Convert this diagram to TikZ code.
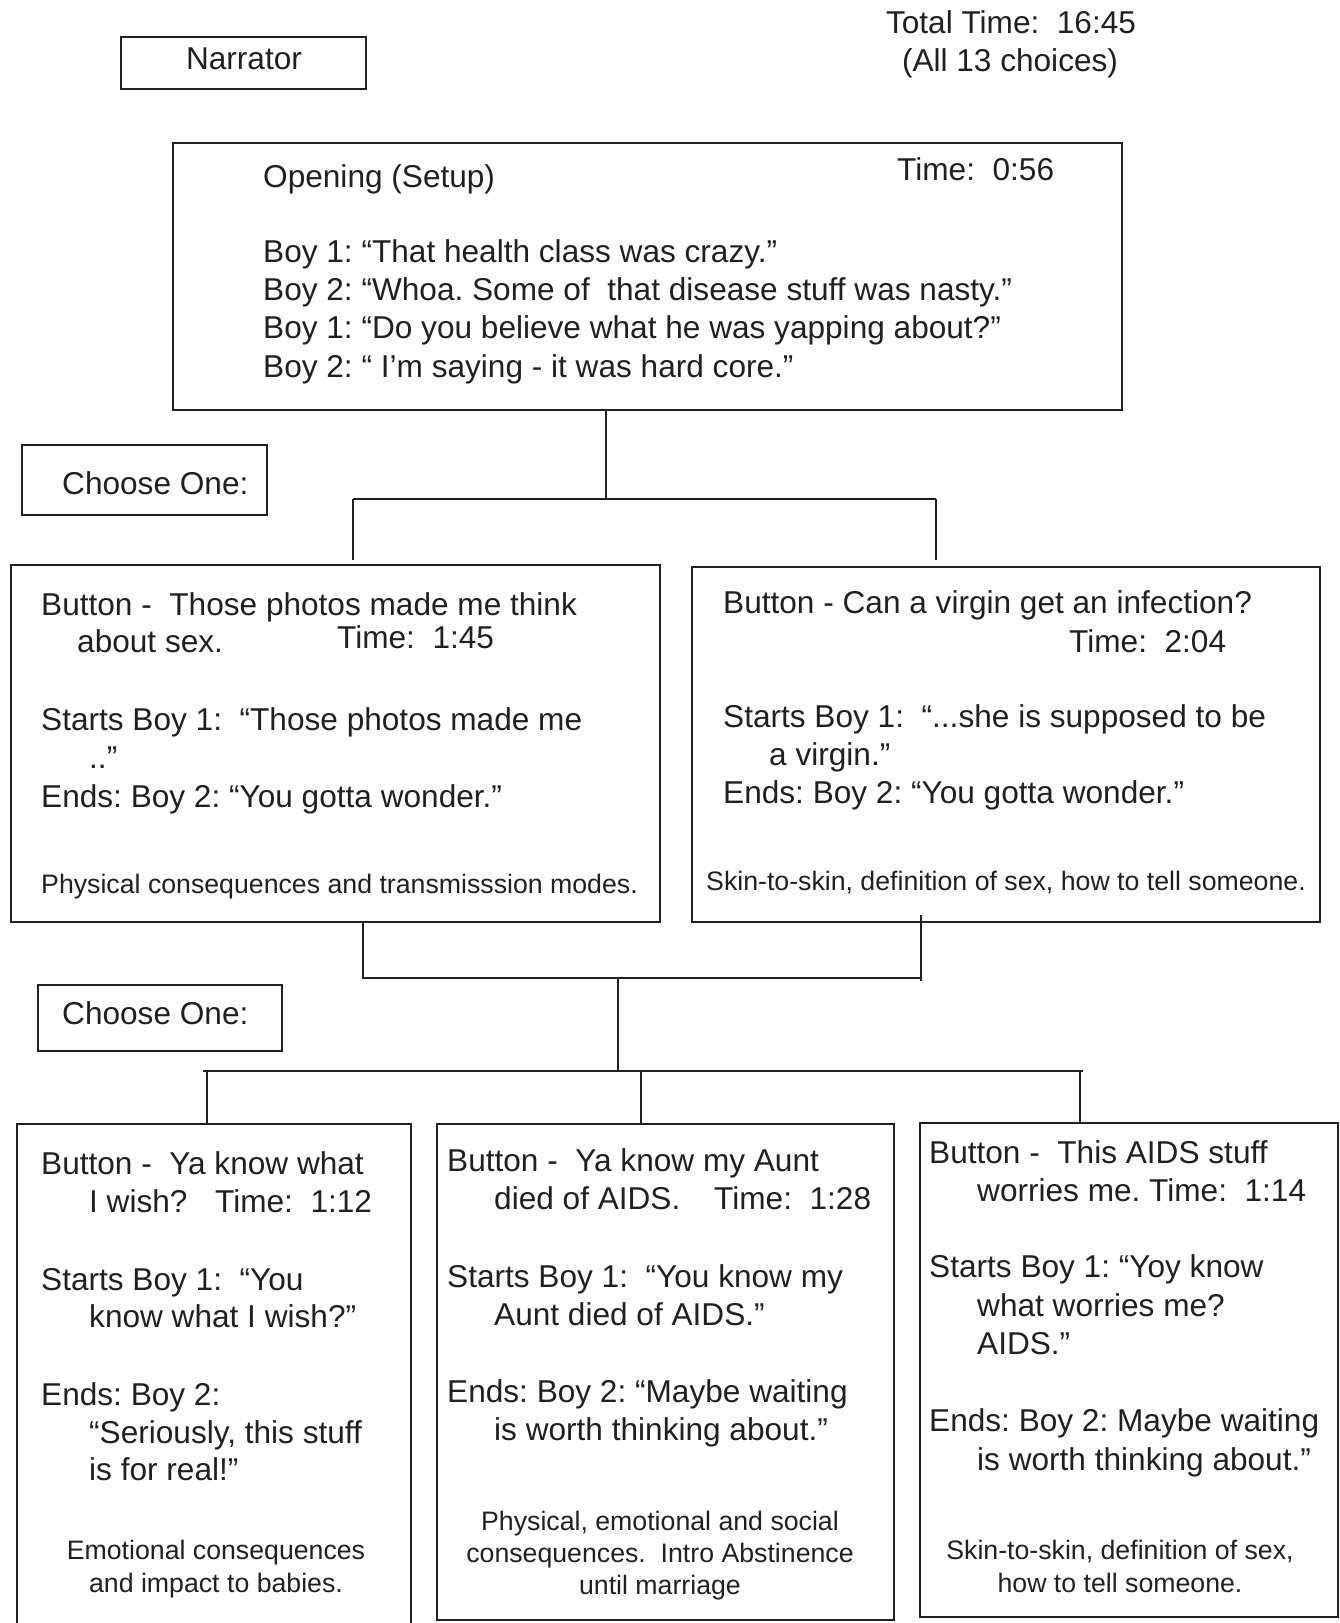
\documentclass[tikz,border=0pt]{standalone}
\usepackage{fontspec}
\setmainfont{Liberation Sans}
\usetikzlibrary{calc}
\definecolor{ink}{RGB}{35,31,32}
\newcommand\mainf{\fontsize{31.6}{38}\selectfont}
\newcommand\notef{\fontsize{26.7}{33}\selectfont}
\frenchspacing
\begin{document}
\begin{tikzpicture}[x=1pt,y=-1pt,
  box/.style={draw=ink, line width=2.5pt, anchor=north west, inner sep=0pt, outer sep=0pt},
  openbox/.style={anchor=north west, inner sep=0pt, outer sep=0pt},
  conn/.style={draw=ink, line width=2.5pt},
  txt/.style={anchor=base west, inner sep=0pt, text=ink, font=\mainf},
  ctxt/.style={anchor=base, inner sep=0pt, text=ink, font=\mainf},
  note/.style={anchor=base west, inner sep=0pt, text=ink, font=\notef},
  cnote/.style={anchor=base, inner sep=0pt, text=ink, font=\notef}]
\useasboundingbox (0,0) rectangle (1340,1623);

% ---------- boxes ----------
\node[box, minimum width=245pt, minimum height=52pt] (narr) at (121,37) {};
\node[box, minimum width=949pt, minimum height=267pt] (open) at (173,143) {};
\node[box, minimum width=245pt, minimum height=70pt] (ch1) at (22,445) {};
\node[box, minimum width=649pt, minimum height=357pt] (b1) at (11,565) {};
\node[box, minimum width=628pt, minimum height=355pt] (b2) at (692,567) {};
\node[box, minimum width=244pt, minimum height=66pt] (ch2) at (38,985) {};
\node[openbox, minimum width=394pt, minimum height=499pt] (c1) at (17,1124) {};
\draw[conn] (c1.south west) -- (c1.north west) -- (c1.north east) -- (c1.south east);
\node[box, minimum width=457pt, minimum height=496pt] (c2) at (437,1124) {};
\node[box, minimum width=418pt, minimum height=494pt] (c3) at (920,1123) {};

% ---------- connectors ----------
\coordinate (j1) at (606,499);
\coordinate (l1) at (353,499);
\coordinate (r1) at (936,499);
\draw[conn] (open.south -| j1) -- (j1);
\draw[conn] (l1) -- (r1);
\draw[conn, shorten >=5pt] (l1) -- (b1.north -| l1);
\draw[conn, shorten >=7pt] (r1) -- (b2.north -| r1);

\coordinate (l2) at (363,978);
\coordinate (r2) at (921,978);
\coordinate (j2) at (618,978);
\coordinate (j3) at (618,1071);
\draw[conn] (b1.south -| l2) -- (l2) -- (r2);
\draw[conn] ([yshift=7pt]b2.south -| r2) -- ([yshift=-3pt]r2);
\draw[conn] (j2) -- (j3);
\coordinate (l3) at (203,1071);
\coordinate (r3) at (1083,1071);
\draw[conn] (l3) -- (r3);
\coordinate (v1) at (207,1071);
\coordinate (v2) at (641,1071);
\coordinate (v3) at (1080,1071);
\draw[conn] (v1) -- (c1.north -| v1);
\draw[conn] (v2) -- (c2.north -| v2);
\draw[conn] (v3) -- (c3.north -| v3);

% ---------- header ----------
\node[ctxt] (narrt) at (244,69) {Narrator};
\node[ctxt] (tot1) at (1011,33) {Total Time:\ \ 16:45};
\node[ctxt] (tot2) at (1010,71) {(All 13 choices)};

% ---------- opening ----------
\node[txt] (o0) at (263,187) {Opening (Setup)};
\node[txt] (ot) at (897,180) {Time:\ \ 0:56};
\node[txt] (o1) at (263,262) {Boy 1: “That health class was crazy.”};
\node[txt] (o2) at (263,300) {Boy 2: “Whoa. Some of\ \ that disease stuff was nasty.”};
\node[txt] (o3) at (263,338) {Boy 1: “Do you believe what he was yapping about?”};
\node[txt] (o4) at (263,377) {Boy 2: “ I’m saying - it was hard core.”};

\node[txt] (ch1t) at (62,494) {Choose One:};
\node[txt] (ch2t) at (62,1024) {Choose One:};

% ---------- first choice ----------
\node[txt] (a1) at (41,615) {Button -\ \ Those photos made me think};
\node[txt] (a2) at (77,652) {about sex.};
\node[txt] (at) at (337,648) {Time:\ \ 1:45};
\node[txt] (a3) at (41,730) {Starts Boy 1:\ \ “Those photos made me};
\node[txt] (a4) at (89,768) {..”};
\node[txt] (a5) at (41,807) {Ends: Boy 2: “You gotta wonder.”};
\node[note] (an) at (41,893) {Physical consequences and transmisssion modes.};

\node[txt] (b1a) at (723,613) {Button - Can a virgin get an infection?};
\node[txt] (bt) at (1069,652) {Time:\ \ 2:04};
\node[txt] (b1b) at (723,727) {Starts Boy 1:\ \ “...she is supposed to be};
\node[txt] (b1c) at (769,765) {a virgin.”};
\node[txt] (b1d) at (723,803) {Ends: Boy 2: “You gotta wonder.”};
\node[note] (bn) at (706,890) {Skin-to-skin, definition of sex, how to tell someone.};

% ---------- second choice ----------
\node[txt] (c1a) at (41,1174) {Button -\ \ Ya know what};
\node[txt] (c1b) at (89,1212) {I wish?};
\node[txt] (c1t) at (215,1212) {Time:\ \ 1:12};
\node[txt] (c1c) at (41,1290) {Starts Boy 1:\ \ “You};
\node[txt] (c1d) at (89,1327) {know what I wish?”};
\node[txt] (c1e) at (41,1405) {Ends: Boy 2:};
\node[txt] (c1f) at (89,1443) {“Seriously, this stuff};
\node[txt] (c1g) at (89,1480) {is for real!”};
\node[cnote] (c1n1) at (216,1559) {Emotional consequences};
\node[cnote] (c1n2) at (216,1592) {and impact to babies.};

\node[txt] (c2a) at (447,1171) {Button -\ \ Ya know my Aunt};
\node[txt] (c2b) at (494,1209) {died of AIDS.};
\node[txt] (c2t) at (714,1209) {Time:\ \ 1:28};
\node[txt] (c2c) at (447,1287) {Starts Boy 1:\ \ “You know my};
\node[txt] (c2d) at (494,1325) {Aunt died of AIDS.”};
\node[txt] (c2e) at (447,1402) {Ends: Boy 2: “Maybe waiting};
\node[txt] (c2f) at (494,1440) {is worth thinking about.”};
\node[cnote] (c2n1) at (660,1530) {Physical, emotional and social};
\node[cnote] (c2n2) at (660,1562) {consequences.\ \ Intro Abstinence};
\node[cnote] (c2n3) at (660,1594) {until marriage};

\node[txt] (c3a) at (929,1163) {Button -\ \ This AIDS stuff};
\node[txt] (c3b) at (977,1201) {worries me. Time:\ \ 1:14};
\node[txt] (c3c) at (929,1277) {Starts Boy 1: “Yoy know};
\node[txt] (c3d) at (977,1316) {what worries me?};
\node[txt] (c3e) at (977,1354) {AIDS.”};
\node[txt] (c3f) at (929,1431) {Ends: Boy 2: Maybe waiting};
\node[txt] (c3g) at (977,1470) {is worth thinking about.”};
\node[cnote] (c3n1) at (1120,1559) {Skin-to-skin, definition of sex,};
\node[cnote] (c3n2) at (1120,1592) {how to tell someone.};
\end{tikzpicture}
\end{document}
